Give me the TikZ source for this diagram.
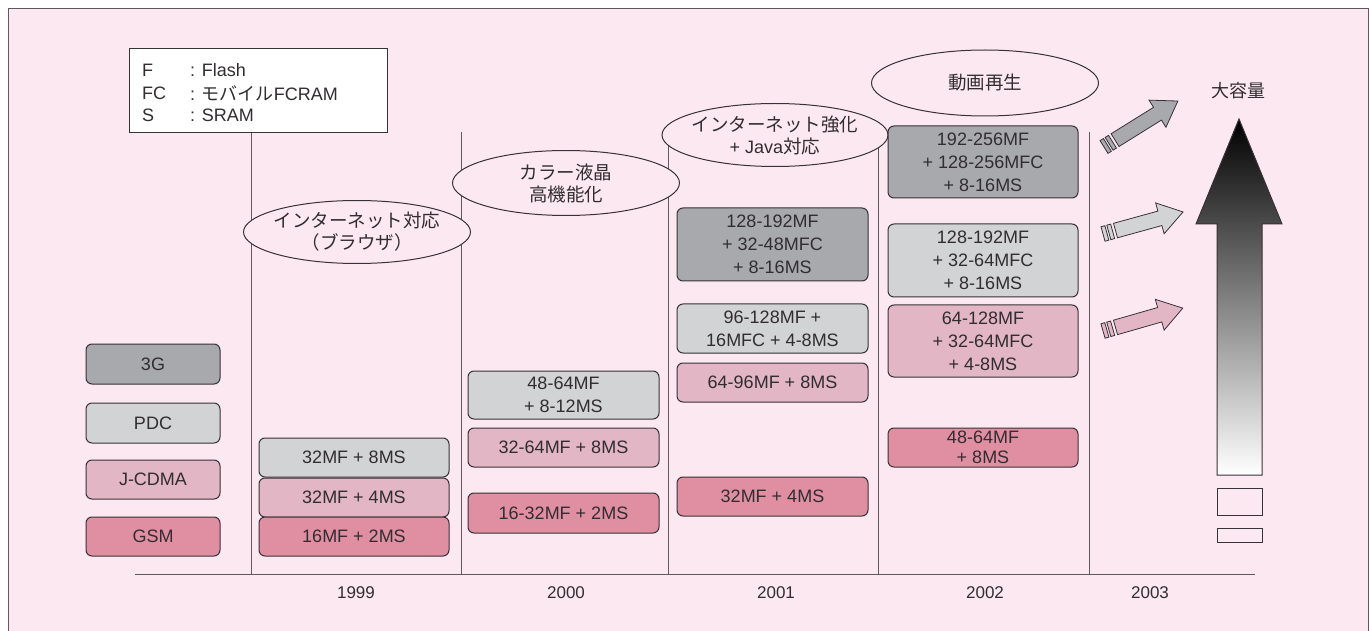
\documentclass[tikz,border=0pt]{standalone}
\usepackage{fontspec}
\setmainfont{Liberation Sans}
\newfontfamily\jp{Noto Sans CJK JP}
\usetikzlibrary{shapes.geometric}
\definecolor{bgpink}{RGB}{252,232,241}
\definecolor{dgray}{RGB}{167,169,172}
\definecolor{lgray}{RGB}{209,211,212}
\definecolor{lpink}{RGB}{226,182,196}
\definecolor{rose}{RGB}{224,143,162}
\definecolor{edge}{RGB}{55,50,55}
\definecolor{vline}{RGB}{95,88,92}
\tikzset{
  txt/.style={font=\fontsize{18}{23}\selectfont, text=edge!90!black},
  membox/.style={txt, draw=edge, line width=1pt, rounded corners=6pt, align=center, inner sep=0pt},
  topic/.style={ellipse, draw=edge, line width=1pt, fill=bgpink, inner xsep=-6pt, inner ysep=-3pt, align=center, font=\jp\fontsize{18.5}{22}\selectfont, text=edge!90!black},
  sep/.style={draw=vline, line width=1pt},
  yr/.style={font=\fontsize{17}{20}\selectfont, text=edge!90!black},
  legtxt/.style={txt, anchor=west, inner sep=0pt}
}
\begin{document}
\begin{tikzpicture}[x=1pt,y=-1pt]
\useasboundingbox (0,0) rectangle (1369,631);
% frame
\draw[fill=bgpink, draw=vline, line width=1pt] (8,9) rectangle (1368,645);

% separators
\foreach \n/\x in {1/251,2/461,3/668,4/878,5/1089}{
  \coordinate (t\n) at (\x,132);
  \coordinate (b\n) at (\x,574);
  \draw[sep] (t\n) -- (b\n);
}
\coordinate (axl) at (135,574);
\coordinate (axr) at (1255,574);
\draw[sep] (axl) -- (axr);

% year labels
\node[yr] (y1999) at (356,593) {1999};
\node[yr] (y2000) at (566,593) {2000};
\node[yr] (y2001) at (776,593) {2001};
\node[yr] (y2002) at (985,593) {2002};
\node[yr] (y2003) at (1150,593) {2003};

% legend
\node[draw=edge, fill=white, line width=1pt, minimum width=258pt, minimum height=84pt, inner sep=0pt] (legend) at (258,91) {};
\node[legtxt] (lf1) at (142,70) {F};
\node[legtxt] (lf2) at (190,70) {: Flash};
\node[legtxt] (lc1) at (142,93) {FC};
\node[legtxt] (lc2) at (190,93) {: {\jp モバイル}FCRAM};
\node[legtxt] (ls1) at (142,115) {S};
\node[legtxt] (ls2) at (190,115) {: SRAM};

% topic ellipses
\node[topic, minimum width=227pt, minimum height=63pt] (e1) at (357,232) {インターネット対応\\（ブラウザ）};
\node[topic, minimum width=227pt, minimum height=65pt] (e2) at (566,183) {カラー液晶\\高機能化};
\node[topic, minimum width=226pt, minimum height=63pt] (e3) at (775,135) {インターネット強化\\{\rmfamily\fontsize{18}{22}\selectfont + Java}対応};
\node[topic, minimum width=227pt, minimum height=66pt] (e4) at (985,83) {動画再生};

% system legend boxes
\node[membox, fill=dgray, minimum width=134pt, minimum height=40pt] (g3) at (153,364) {3G};
\node[membox, fill=lgray, minimum width=134pt, minimum height=40pt] (pdc) at (153,423) {PDC};
\node[membox, fill=lpink, minimum width=134pt, minimum height=39pt] (jcdma) at (153,479.5) {J-CDMA};
\node[membox, fill=rose, minimum width=134pt, minimum height=39pt] (gsm) at (153,536.5) {GSM};

% 1999
\node[membox, fill=lgray, minimum width=190pt, minimum height=39pt] (a1) at (354,457.5) {32MF + 8MS};
\node[membox, fill=lpink, minimum width=190pt, minimum height=39pt] (a2) at (354,497.5) {32MF + 4MS};
\node[membox, fill=rose, minimum width=190pt, minimum height=39pt] (a3) at (354,536.5) {16MF + 2MS};

% 2000
\node[membox, fill=lgray, minimum width=191pt, minimum height=48pt] (b1) at (563.5,395) {48-64MF\\+ 8-12MS};
\node[membox, fill=lpink, minimum width=191pt, minimum height=39pt] (b2) at (563.5,447.5) {32-64MF + 8MS};
\node[membox, fill=rose, minimum width=191pt, minimum height=40pt] (b3) at (563.5,513) {16-32MF + 2MS};

% 2001
\node[membox, fill=dgray, minimum width=191pt, minimum height=73pt] (c1) at (772.5,244.5) {128-192MF\\+ 32-48MFC\\+ 8-16MS};
\node[membox, fill=lgray, minimum width=191pt, minimum height=49pt] (c2) at (772.5,328.5) {96-128MF +\\16MFC + 4-8MS};
\node[membox, fill=lpink, minimum width=191pt, minimum height=39pt] (c3) at (772.5,382.5) {64-96MF + 8MS};
\node[membox, fill=rose, minimum width=191pt, minimum height=39pt] (c4) at (772.5,496.5) {32MF + 4MS};

% 2002
\node[membox, fill=dgray, minimum width=190pt, minimum height=72pt] (d1) at (983,162) {192-256MF\\+ 128-256MFC\\+ 8-16MS};
\node[membox, fill=lgray, minimum width=190pt, minimum height=73pt] (d2) at (983,260.5) {128-192MF\\+ 32-64MFC\\+ 8-16MS};
\node[membox, fill=lpink, minimum width=190pt, minimum height=72pt] (d3) at (983,341) {64-128MF\\+ 32-64MFC\\+ 4-8MS};
\node[membox, fill=rose, minimum width=190pt, minimum height=39pt, font=\fontsize{18}{19.5}\selectfont] (d4) at (983,447.5) {48-64MF\\+ 8MS};

% small trend arrows
\foreach \px/\py/\ang/\len/\col in {1104/147/31.9/87/dgray, 1103/234/15.4/83/lgray, 1103/331/16/83/lpink}{
  \begin{scope}[shift={(\px,\py)}, rotate=\ang]
    \draw[fill=\col, draw=edge, line width=0.8pt] (0,-7.5) rectangle (4,7.5);
    \draw[fill=\col, draw=edge, line width=0.8pt] (6,-7.5) rectangle (10,7.5);
    \draw[fill=\col, draw=edge, line width=0.8pt, line join=miter]
      (13,-7.5) -- (\len-24,-7.5) -- (\len-24,-16) -- (\len,0) -- (\len-24,16) -- (\len-24,7.5) -- (13,7.5) -- cycle;
  \end{scope}
}

% big capacity arrow
\coordinate (bt) at (1239,119);
\shade[top color=black, bottom color=white]
  (bt) -- (1282,224) -- (1262,224) -- (1262,475) -- (1217,475) -- (1217,224) -- (1196,224) -- cycle;
\draw[draw=edge, line width=1pt, line join=miter]
  (bt) -- (1282,224) -- (1262,224) -- (1262,475) -- (1217,475) -- (1217,224) -- (1196,224) -- cycle;
\node[font=\jp\fontsize{18}{22}\selectfont, text=edge!90!black] (cap) at (1238,91) {大容量};
\node[draw=edge, line width=1pt, minimum width=45pt, minimum height=27pt, inner sep=0pt] (r1) at (1239.5,501.5) {};
\node[draw=edge, line width=1pt, minimum width=45pt, minimum height=14pt, inner sep=0pt] (r2) at (1239.5,535) {};
\end{tikzpicture}
\end{document}
